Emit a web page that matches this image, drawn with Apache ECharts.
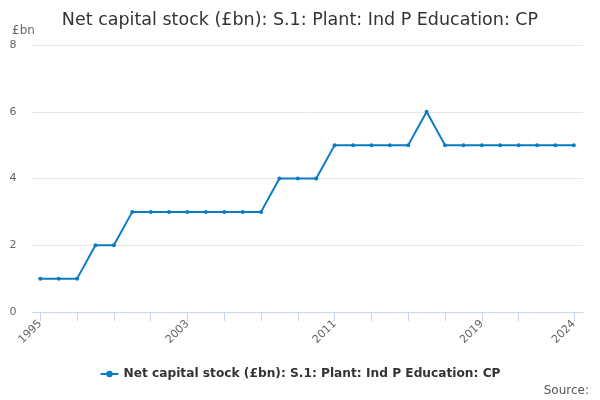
<!DOCTYPE html>
<html><head><meta charset="utf-8">
<script src="https://cdn.jsdelivr.net/npm/echarts@6/dist/echarts.min.js"></script>
<style>html,body{margin:0;padding:0;background:#fff}#c{width:600px;height:400px}</style>
</head><body><div id="c"></div>
<script>
var years = [1995,1996,1997,1998,1999,2000,2001,2002,2003,2004,2005,2006,2007,2008,2009,2010,2011,2012,2013,2014,2015,2016,2017,2018,2019,2020,2021,2022,2023,2024];
var values = [1,1,1,2,2,3,3,3,3,3,3,3,3,4,4,4,5,5,5,5,5,6,5,5,5,5,5,5,5,5];
var tickYears = [1995,1997,1999,2001,2003,2005,2007,2009,2011,2013,2015,2017,2019,2021,2024];
var labelYears = [1995,2003,2011,2019,2024];
var seriesName = 'Net capital stock (£bn): S.1: Plant: Ind P Education: CP';

var chart = echarts.init(document.getElementById('c'));
chart.setOption({
  animation: false,
  title: {
    text: 'Net capital stock (£bn): S.1: Plant: Ind P Education: CP',
    left: 'center', top: 6,
    textStyle: {fontFamily: 'DejaVu Sans', fontSize: 17.5, fontWeight: 'normal', color: '#333'}
  },
  graphic: [{
    type: 'text', right: 11, bottom: 3,
    style: {text: 'Source:', fontFamily: 'DejaVu Sans', fontSize: 12, fill: '#555'}
  }],
  legend: {
    bottom: 15, left: 'center',
    itemWidth: 18, itemHeight: 8, itemGap: 10,
    textStyle: {fontFamily: 'DejaVu Sans', fontSize: 12.2, fontWeight: 'bold', color: '#333'}
  },
  grid: {left: 32, right: 17, top: 45, bottom: 88, containLabel: false},
  xAxis: {
    type: 'value', min: 1994.55, max: 2024.5,
    axisLine: {show: true, lineStyle: {color: '#ccd6eb'}},
    axisTick: {show: true, customValues: tickYears, length: 9, lineStyle: {color: '#ccd6eb'}},
    axisLabel: {customValues: labelYears, rotate: 45, fontFamily: 'DejaVu Sans', fontSize: 11, color: '#666', margin: 10,
      formatter: function(v){return String(Math.round(v));}},
    splitLine: {show: false}
  },
  yAxis: {
    type: 'value', min: 0, max: 8, interval: 2,
    name: '£bn', nameLocation: 'end', nameGap: 8,
    nameTextStyle: {fontFamily: 'DejaVu Sans', fontSize: 12, color: '#666', align: 'left', padding: [0,0,0,-20]},
    axisLine: {show: false}, axisTick: {show: false},
    axisLabel: {fontFamily: 'DejaVu Sans', fontSize: 11, color: '#666', margin: 19, align: 'center'},
    splitLine: {lineStyle: {color: '#e6e6e6'}}
  },
  series: [{
    name: seriesName, type: 'line',
    data: years.map(function(y,i){return [y, values[i]];}),
    symbol: 'circle', symbolSize: 4,
    lineStyle: {width: 2, color: '#0b7cc4'},
    itemStyle: {color: '#0b7cc4'}
  }]
});
</script></body></html>
